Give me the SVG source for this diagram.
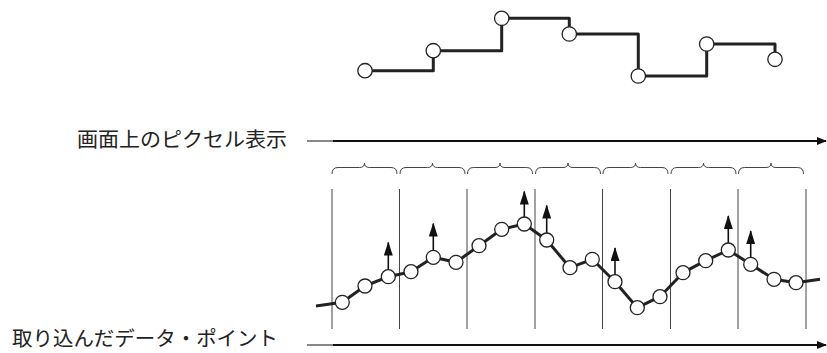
<svg xmlns="http://www.w3.org/2000/svg" width="827" height="353" viewBox="0 0 827 353">
<style>
.lbl{font-family:"Noto Sans CJK JP","Noto Sans",sans-serif;font-size:20px;fill:#222}
.pt{fill:#fff;stroke:#222;stroke-width:1.3}
.trace{fill:none;stroke:#222;stroke-width:3;stroke-linejoin:round}
.col{stroke:#444;stroke-width:1}
.brace{fill:none;stroke:#444;stroke-width:1}
.axis{stroke:#111;stroke-width:2}
.axisg{stroke:#888;stroke-width:2}
.up{stroke:#111;stroke-width:1.6}
</style>
<defs>
<marker id="ah" markerWidth="10" markerHeight="8" refX="9" refY="4" orient="auto" markerUnits="userSpaceOnUse">
<path d="M0,0 L10,4 L0,8 Z" fill="#111"/>
</marker>
<marker id="uh" markerWidth="14" markerHeight="9" refX="13" refY="4.5" orient="auto" markerUnits="userSpaceOnUse">
<path d="M0,0 L14,4.5 L0,9 Z" fill="#111"/>
</marker>
</defs>

<g id="pixel-display">
<path class="trace" d="M365,70.7 H433.3 V50.7 H501.7 V18.3 H569.3 V34 H638.3 V76 H706.7 V44 H775 V59.3"/>
<circle class="pt" cx="365" cy="70.7" r="7.2"/>
<circle class="pt" cx="433.3" cy="50.7" r="7.2"/>
<circle class="pt" cx="501.7" cy="18.3" r="7.2"/>
<circle class="pt" cx="569.3" cy="34" r="7.2"/>
<circle class="pt" cx="638.3" cy="76" r="7.2"/>
<circle class="pt" cx="706.7" cy="44" r="7.2"/>
<circle class="pt" cx="775" cy="59.3" r="7.2"/>
</g>

<g id="label-pixel">
<text class="lbl" x="77" y="147" textLength="210" lengthAdjust="spacingAndGlyphs">画面上のピクセル表示</text>
</g>
<g id="label-data">
<text class="lbl" x="12" y="346" textLength="266" lengthAdjust="spacingAndGlyphs">取り込んだデータ・ポイント</text>
</g>

<g id="connectors">
<line class="axisg" x1="307" y1="141" x2="333" y2="141"/>
<line class="axis" x1="333" y1="141" x2="826" y2="141" marker-end="url(#ah)"/>
<line class="axisg" x1="307" y1="345" x2="333" y2="345"/>
<line class="axis" x1="333" y1="345" x2="826" y2="345" marker-end="url(#ah)"/>
</g>

<g id="braces">
<path class="brace" d="M332,174 Q332,167.5 338,167.5 L359.5,167.5 Q364.5,167.5 364.5,163 Q364.5,167.5 369.5,167.5 L391,167.5 Q397,167.5 397,174"/>
<path class="brace" d="M400,174 Q400,167.5 406,167.5 L427.5,167.5 Q432.5,167.5 432.5,163 Q432.5,167.5 437.5,167.5 L459,167.5 Q465,167.5 465,174"/>
<path class="brace" d="M467.5,174 Q467.5,167.5 473.5,167.5 L495,167.5 Q500,167.5 500,163 Q500,167.5 505,167.5 L526.5,167.5 Q532.5,167.5 532.5,174"/>
<path class="brace" d="M535.5,174 Q535.5,167.5 541.5,167.5 L563,167.5 Q568,167.5 568,163 Q568,167.5 573,167.5 L594.5,167.5 Q600.5,167.5 600.5,174"/>
<path class="brace" d="M603,174 Q603,167.5 609,167.5 L630.5,167.5 Q635.5,167.5 635.5,163 Q635.5,167.5 640.5,167.5 L662,167.5 Q668,167.5 668,174"/>
<path class="brace" d="M671,174 Q671,167.5 677,167.5 L698.5,167.5 Q703.5,167.5 703.5,163 Q703.5,167.5 708.5,167.5 L730,167.5 Q736,167.5 736,174"/>
<path class="brace" d="M738.5,174 Q738.5,167.5 744.5,167.5 L766,167.5 Q771,167.5 771,163 Q771,167.5 776,167.5 L797.5,167.5 Q803.5,167.5 803.5,174"/>
</g>

<g id="columns">
<line class="col" x1="332" y1="189" x2="332" y2="329"/>
<line class="col" x1="399.5" y1="189" x2="399.5" y2="329"/>
<line class="col" x1="467" y1="189" x2="467" y2="329"/>
<line class="col" x1="535" y1="189" x2="535" y2="329"/>
<line class="col" x1="602.5" y1="189" x2="602.5" y2="329"/>
<line class="col" x1="670.5" y1="189" x2="670.5" y2="329"/>
<line class="col" x1="738" y1="189" x2="738" y2="329"/>
<line class="col" x1="806" y1="189" x2="806" y2="329"/>
</g>

<g id="data-points">
<polyline class="trace" points="316,306 342.3,302.3 365,286 388.3,276.7 411,271.7 433.3,257.3 456,262.3 479,245.7 501.7,229.3 524.3,224 546.7,240 570,267.7 592.3,259.3 615,281.7 637.3,307.7 660,296.7 683,272.7 705.7,260.7 728.3,250 750.7,264.3 774,279.3 796,282.7 820,279.3"/>
<line class="up" x1="388.3" y1="270" x2="388.3" y2="242.5" marker-end="url(#uh)"/>
<line class="up" x1="433.3" y1="250.5" x2="433.3" y2="223.5" marker-end="url(#uh)"/>
<line class="up" x1="524.3" y1="217" x2="524.3" y2="191.5" marker-end="url(#uh)"/>
<line class="up" x1="546.7" y1="233" x2="546.7" y2="205.5" marker-end="url(#uh)"/>
<line class="up" x1="615" y1="275" x2="615" y2="248" marker-end="url(#uh)"/>
<line class="up" x1="728.3" y1="243" x2="728.3" y2="216" marker-end="url(#uh)"/>
<line class="up" x1="750.7" y1="257.5" x2="750.7" y2="231" marker-end="url(#uh)"/>
<circle class="pt" cx="342.3" cy="302.3" r="7"/>
<circle class="pt" cx="365" cy="286" r="7"/>
<circle class="pt" cx="388.3" cy="276.7" r="7"/>
<circle class="pt" cx="411" cy="271.7" r="7"/>
<circle class="pt" cx="433.3" cy="257.3" r="7"/>
<circle class="pt" cx="456" cy="262.3" r="7"/>
<circle class="pt" cx="479" cy="245.7" r="7"/>
<circle class="pt" cx="501.7" cy="229.3" r="7"/>
<circle class="pt" cx="524.3" cy="224" r="7"/>
<circle class="pt" cx="546.7" cy="240" r="7"/>
<circle class="pt" cx="570" cy="267.7" r="7"/>
<circle class="pt" cx="592.3" cy="259.3" r="7"/>
<circle class="pt" cx="615" cy="281.7" r="7"/>
<circle class="pt" cx="637.3" cy="307.7" r="7"/>
<circle class="pt" cx="660" cy="296.7" r="7"/>
<circle class="pt" cx="683" cy="272.7" r="7"/>
<circle class="pt" cx="705.7" cy="260.7" r="7"/>
<circle class="pt" cx="728.3" cy="250" r="7"/>
<circle class="pt" cx="750.7" cy="264.3" r="7"/>
<circle class="pt" cx="774" cy="279.3" r="7"/>
<circle class="pt" cx="796" cy="282.7" r="7"/>
</g>
</svg>
